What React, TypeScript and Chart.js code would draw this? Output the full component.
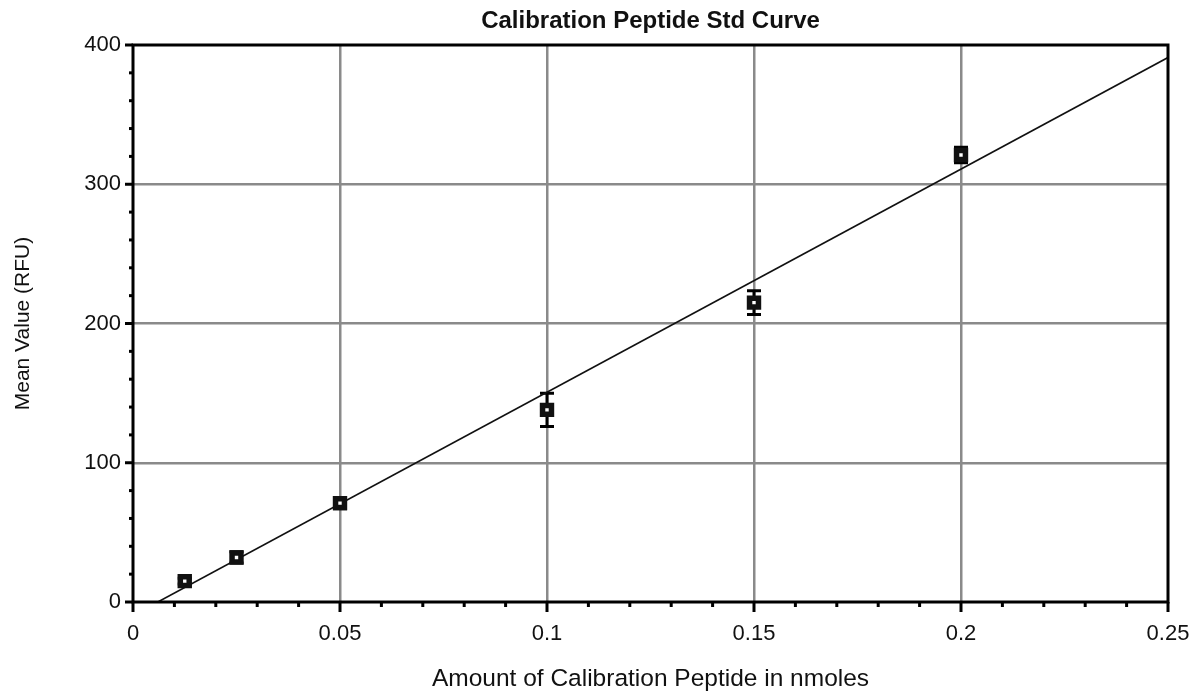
import React, { useEffect, useRef } from "react";
import { Chart, registerables } from "chart.js";

Chart.register(...registerables);

const chartTitle = "Calibration Peptide Std Curve";
const xAxisTitle = "Amount of Calibration Peptide in nmoles";
const yAxisTitle = "Mean Value (RFU)";

const amounts = [0.0125, 0.025, 0.05, 0.1, 0.15, 0.2];
const meanValues = [15, 32, 71, 138, 215, 321];
const errorValues = [2, 4, 4, 12, 8.5, 5.5];

const fitLineX = [0.006, 0.25];
const fitLineY = [0, 391];

const FONT = "Arial, 'Liberation Sans', sans-serif";

const isMult = (v: number, step: number) => Math.abs(v / step - Math.round(v / step)) < 1e-6;

const framePlugin = {
  id: "frame",
  beforeDatasetsDraw(chart: any) {
    const ctx = chart.ctx;
    const meta = chart.getDatasetMeta(0);
    const ds = chart.data.datasets[0] as any;
    const y = chart.scales.y;
    ctx.save();
    ctx.strokeStyle = "#000";
    ctx.lineWidth = 3;
    meta.data.forEach((pt: any, i: number) => {
      const err = ds.errors[i];
      const v = meanValues[i];
      const yt = y.getPixelForValue(v + err);
      const yb = y.getPixelForValue(v - err);
      ctx.beginPath();
      ctx.moveTo(pt.x, yt);
      ctx.lineTo(pt.x, yb);
      ctx.moveTo(pt.x - 7, yt);
      ctx.lineTo(pt.x + 7, yt);
      ctx.moveTo(pt.x - 7, yb);
      ctx.lineTo(pt.x + 7, yb);
      ctx.stroke();
    });
    ctx.restore();
  },
  afterDraw(chart: any) {
    const ctx = chart.ctx;
    const { left, right, top, bottom } = chart.chartArea;
    const xs = chart.scales.x;
    const ys = chart.scales.y;
    ctx.save();
    ctx.strokeStyle = "#000";
    ctx.lineWidth = 3;
    ctx.lineCap = "butt";
    ctx.beginPath();
    ctx.moveTo(left - 1.5, top);
    ctx.lineTo(right + 1.5, top);
    ctx.moveTo(right, top);
    ctx.lineTo(right, bottom);
    ctx.moveTo(left - 1.5, bottom);
    ctx.lineTo(right + 1.5, bottom);
    ctx.moveTo(left, top);
    ctx.lineTo(left, bottom);
    ctx.stroke();
    xs.ticks.forEach((t: any) => {
      const px = xs.getPixelForValue(t.value);
      const len = isMult(t.value, 0.05) ? 10 : 5;
      ctx.beginPath();
      ctx.moveTo(px, bottom);
      ctx.lineTo(px, bottom + len);
      ctx.stroke();
    });
    ys.ticks.forEach((t: any) => {
      const py = ys.getPixelForValue(t.value);
      const len = isMult(t.value, 100) ? 8 : 4;
      ctx.beginPath();
      ctx.moveTo(left, py);
      ctx.lineTo(left - len, py);
      ctx.stroke();
    });
    ctx.fillStyle = "#111";
    ctx.font = `bold 24px ${FONT}`;
    ctx.textAlign = "center";
    ctx.textBaseline = "alphabetic";
    ctx.fillText(chartTitle, (left + right) / 2, 28);
    ctx.restore();
  },
};

export default function App() {
  const canvasRef = useRef<HTMLCanvasElement | null>(null);

  useEffect(() => {
    if (!canvasRef.current) return;
    const chart = new Chart(canvasRef.current, {
      type: "scatter",
      data: {
        datasets: [
          {
            label: "Mean",
            data: amounts.map((a, i) => ({ x: a, y: meanValues[i] })),
            errors: errorValues,
            pointStyle: "rect",
            pointRadius: 6.3,
            pointHoverRadius: 6.3,
            pointBorderWidth: 5.5,
            pointBorderColor: "#111",
            pointBackgroundColor: "#fff",
            showLine: false,
            order: 0,
          } as any,
          {
            label: "Fit",
            type: "line",
            data: fitLineX.map((a, i) => ({ x: a, y: fitLineY[i] })),
            borderColor: "#111",
            borderWidth: 1.6,
            pointRadius: 0,
            fill: false,
            order: 1,
          } as any,
        ],
      },
      options: {
        animation: false,
        responsive: true,
        maintainAspectRatio: false,
        layout: { padding: { top: 45, right: 26, left: 0, bottom: 0 } },
        plugins: {
          legend: { display: false },
          title: { display: false },
          tooltip: { enabled: false },
        },
        scales: {
          x: {
            type: "linear",
            min: 0,
            max: 0.25,
            afterFit: (s: any) => {
              s.height = 91;
              s.paddingLeft = 0;
              s.paddingRight = 0;
            },
            border: { display: false },
            grid: {
              drawTicks: false,
              lineWidth: 2.5,
              color: (c: any) =>
                c.tick && isMult(c.tick.value, 0.05) && c.tick.value > 0 && c.tick.value < 0.25
                  ? "#8a8a8a"
                  : "rgba(0,0,0,0)",
            },
            ticks: {
              stepSize: 0.01,
              autoSkip: false,
              maxRotation: 0,
              padding: 19,
              color: "#111",
              font: { family: FONT, size: 22 },
              callback: (v: any) => (isMult(Number(v), 0.05) ? String(Math.round(Number(v) * 100) / 100) : ""),
            },
            title: {
              display: true,
              text: xAxisTitle,
              color: "#111",
              font: { family: FONT, size: 24.5, lineHeight: 1.1 },
              padding: { top: 0, bottom: 0 },
            },
          },
          y: {
            type: "linear",
            min: 0,
            max: 400,
            afterFit: (s: any) => {
              s.width = 133;
              s.paddingTop = 0;
              s.paddingBottom = 0;
            },
            border: { display: false },
            grid: {
              drawTicks: false,
              lineWidth: 2.5,
              color: (c: any) =>
                c.tick && isMult(c.tick.value, 100) && c.tick.value > 0 && c.tick.value < 400
                  ? "#8a8a8a"
                  : "rgba(0,0,0,0)",
            },
            ticks: {
              stepSize: 20,
              autoSkip: false,
              padding: 12,
              color: "#111",
              font: { family: FONT, size: 22 },
              callback: (v: any) => (isMult(Number(v), 100) ? String(v) : ""),
            },
            title: {
              display: true,
              text: yAxisTitle,
              color: "#111",
              font: { family: FONT, size: 21, lineHeight: 1.2 },
              padding: { top: 11, bottom: 0 },
            },
          },
        },
      },
      plugins: [framePlugin],
    });
    return () => chart.destroy();
  }, []);

  return (
    <div style={{ position: "fixed", left: 0, top: 0, width: 1194, height: 693, background: "#fff" }}>
      <canvas ref={canvasRef} />
    </div>
  );
}
